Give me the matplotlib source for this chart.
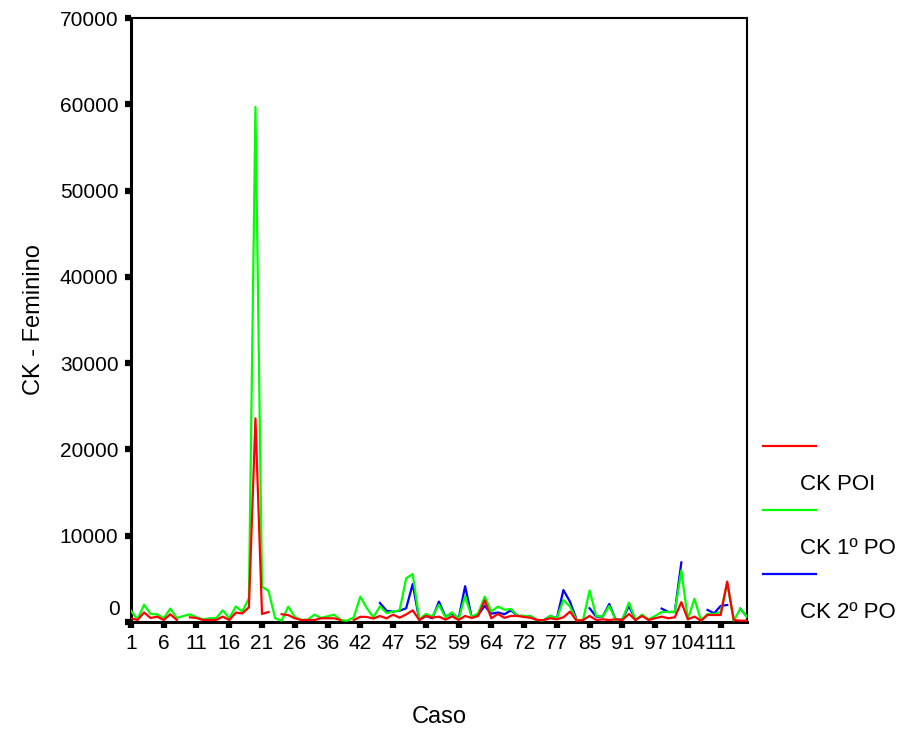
import numpy as np
import matplotlib
matplotlib.use('agg')
import matplotlib.pyplot as plt
from matplotlib.lines import Line2D

plt.rcParams['font.family'] = ['Liberation Sans', 'DejaVu Sans']

nan = np.nan

# case labels shown every 5th case on the x axis
tick_labels = ['1', '6', '11', '16', '21', '26', '36', '42', '47', '52',
               '59', '64', '72', '77', '85', '91', '97', '104', '111']
y_ticks = [0, 10000, 20000, 30000, 40000, 50000, 60000, 70000]

# CK values, one entry per case (95 cases)
ck_poi = [430, 230, 1100, 460, 620, 230, 890, 230, nan, 540,
          460, 230, 230, 230, 620, 230, 1080, 1000, 1700, 23600,
          930, 1160, nan, 900, 800, 430, 230, 230, 230, 430,
          430, 430, 230, nan, 230, 600, 580, 400, 700, 420,
          850, 500, 870, 1350, 230, 700, 500, 620, 270, 660,
          230, 700, 460, 700, 2500, 430, 930, 480, 700, 700,
          580, 480, 230, 230, 430, 310, 540, 1200, 150, 230,
          700, 230, 310, 230, 310, 230, 930, 230, 700, 230,
          430, 620, 430, 540, 2300, 310, 620, 150, 810, 810,
          810, 4680, 230, 150, 150]

ck_1po = [1300, 300, 2000, 930, 890, 430, 1550, 460, 700, 890,
          540, 310, 430, 430, 1350, 430, 1800, 1200, 2750, 59700,
          4100, 3600, 430, 150, 1780, 580, 230, 280, 850, 460,
          660, 850, 230, 150, 540, 2940, 1600, 540, 1820, 1040,
          1200, 1350, 5070, 5550, 270, 930, 620, 2000, 540, 1120,
          350, 3000, 540, 1040, 2940, 1230, 1780, 1430, 1500, 720,
          700, 660, 230, 180, 700, 430, 2550, 1780, 230, 230,
          3650, 700, 620, 1860, 230, 310, 2240, 230, 850, 310,
          700, 1160, 1160, 1160, 5960, 310, 2700, 150, 930, 930,
          1160, 4500, 150, 1550, 620]

ck_2po = [nan] * 38 + [
          2200, 1300,
          1200, 1300, 1590, 4400, 230, 700, 430, 2360, 620, 1000,
          370, 4150, 580, 870, 1860, 960, 1100, 900, 1350, 700,
          700, 660, 230, 180, 700, 430, 3700, 2360, 310, nan,
          1590, 620, 620, 2090, 230, 310, 1860, 230, nan, nan,
          nan, 1550, 1160, 1160, 6900, nan, nan, nan, 1400, 1000,
          1860, 1970, nan, 1550, 620]

x = np.arange(len(ck_poi))

fig = plt.figure(figsize=(9.02, 7.29), dpi=100)
ax = fig.add_axes([0.1452, 0.1468, 0.6828, 0.8285])

ax.plot(x, ck_2po, color='#0000ff', lw=1.6, zorder=2)
ax.plot(x, ck_1po, color='#00ff00', lw=1.6, zorder=3)
ax.plot(x, ck_poi, color='#ff0000', lw=1.6, zorder=4)

ax.set_xlim(0, len(ck_poi) - 1)
ax.set_ylim(0, 70000)

ax.set_xticks(x[::5][:len(tick_labels)])
ax.set_xticklabels(tick_labels, fontsize=15)
ax.set_yticks(y_ticks)
ax.set_yticklabels([''] + [str(v) for v in y_ticks[1:]], fontsize=15)
# SPSS puts the zero label a bit above the axis
ax.annotate('0', xy=(0, 0), xycoords=('axes fraction', 'data'),
            xytext=(-11, 12), textcoords='offset pixels',
            ha='right', va='center', fontsize=15)

ax.tick_params(axis='both', direction='out', length=4, width=4.5,
               color='black', pad=5)

for side in ['left', 'bottom']:
    ax.spines[side].set_linewidth(2.2)
for side in ['top', 'right']:
    ax.spines[side].set_linewidth(1.5)

ax.set_xlabel('Caso', fontsize=17, labelpad=38)
ax.set_ylabel('CK - Feminino', fontsize=17, labelpad=11)

# legend drawn SPSS-style: line above its label
leg_items = [('#ff0000', 'CK POI'), ('#00ff00', 'CK 1º PO'), ('#0000ff', 'CK 2º PO')]
for k, (col, lab) in enumerate(leg_items):
    yl = 1 - (446 + 64 * k) / 729
    yt = 1 - (484 + 64 * k) / 729
    fig.add_artist(Line2D([763 / 902, 816 / 902], [yl, yl], color=col, lw=1.6))
    fig.text(800 / 902, yt, lab, fontsize=16, ha='left', va='center')

fig.savefig('out.png', dpi=100)
